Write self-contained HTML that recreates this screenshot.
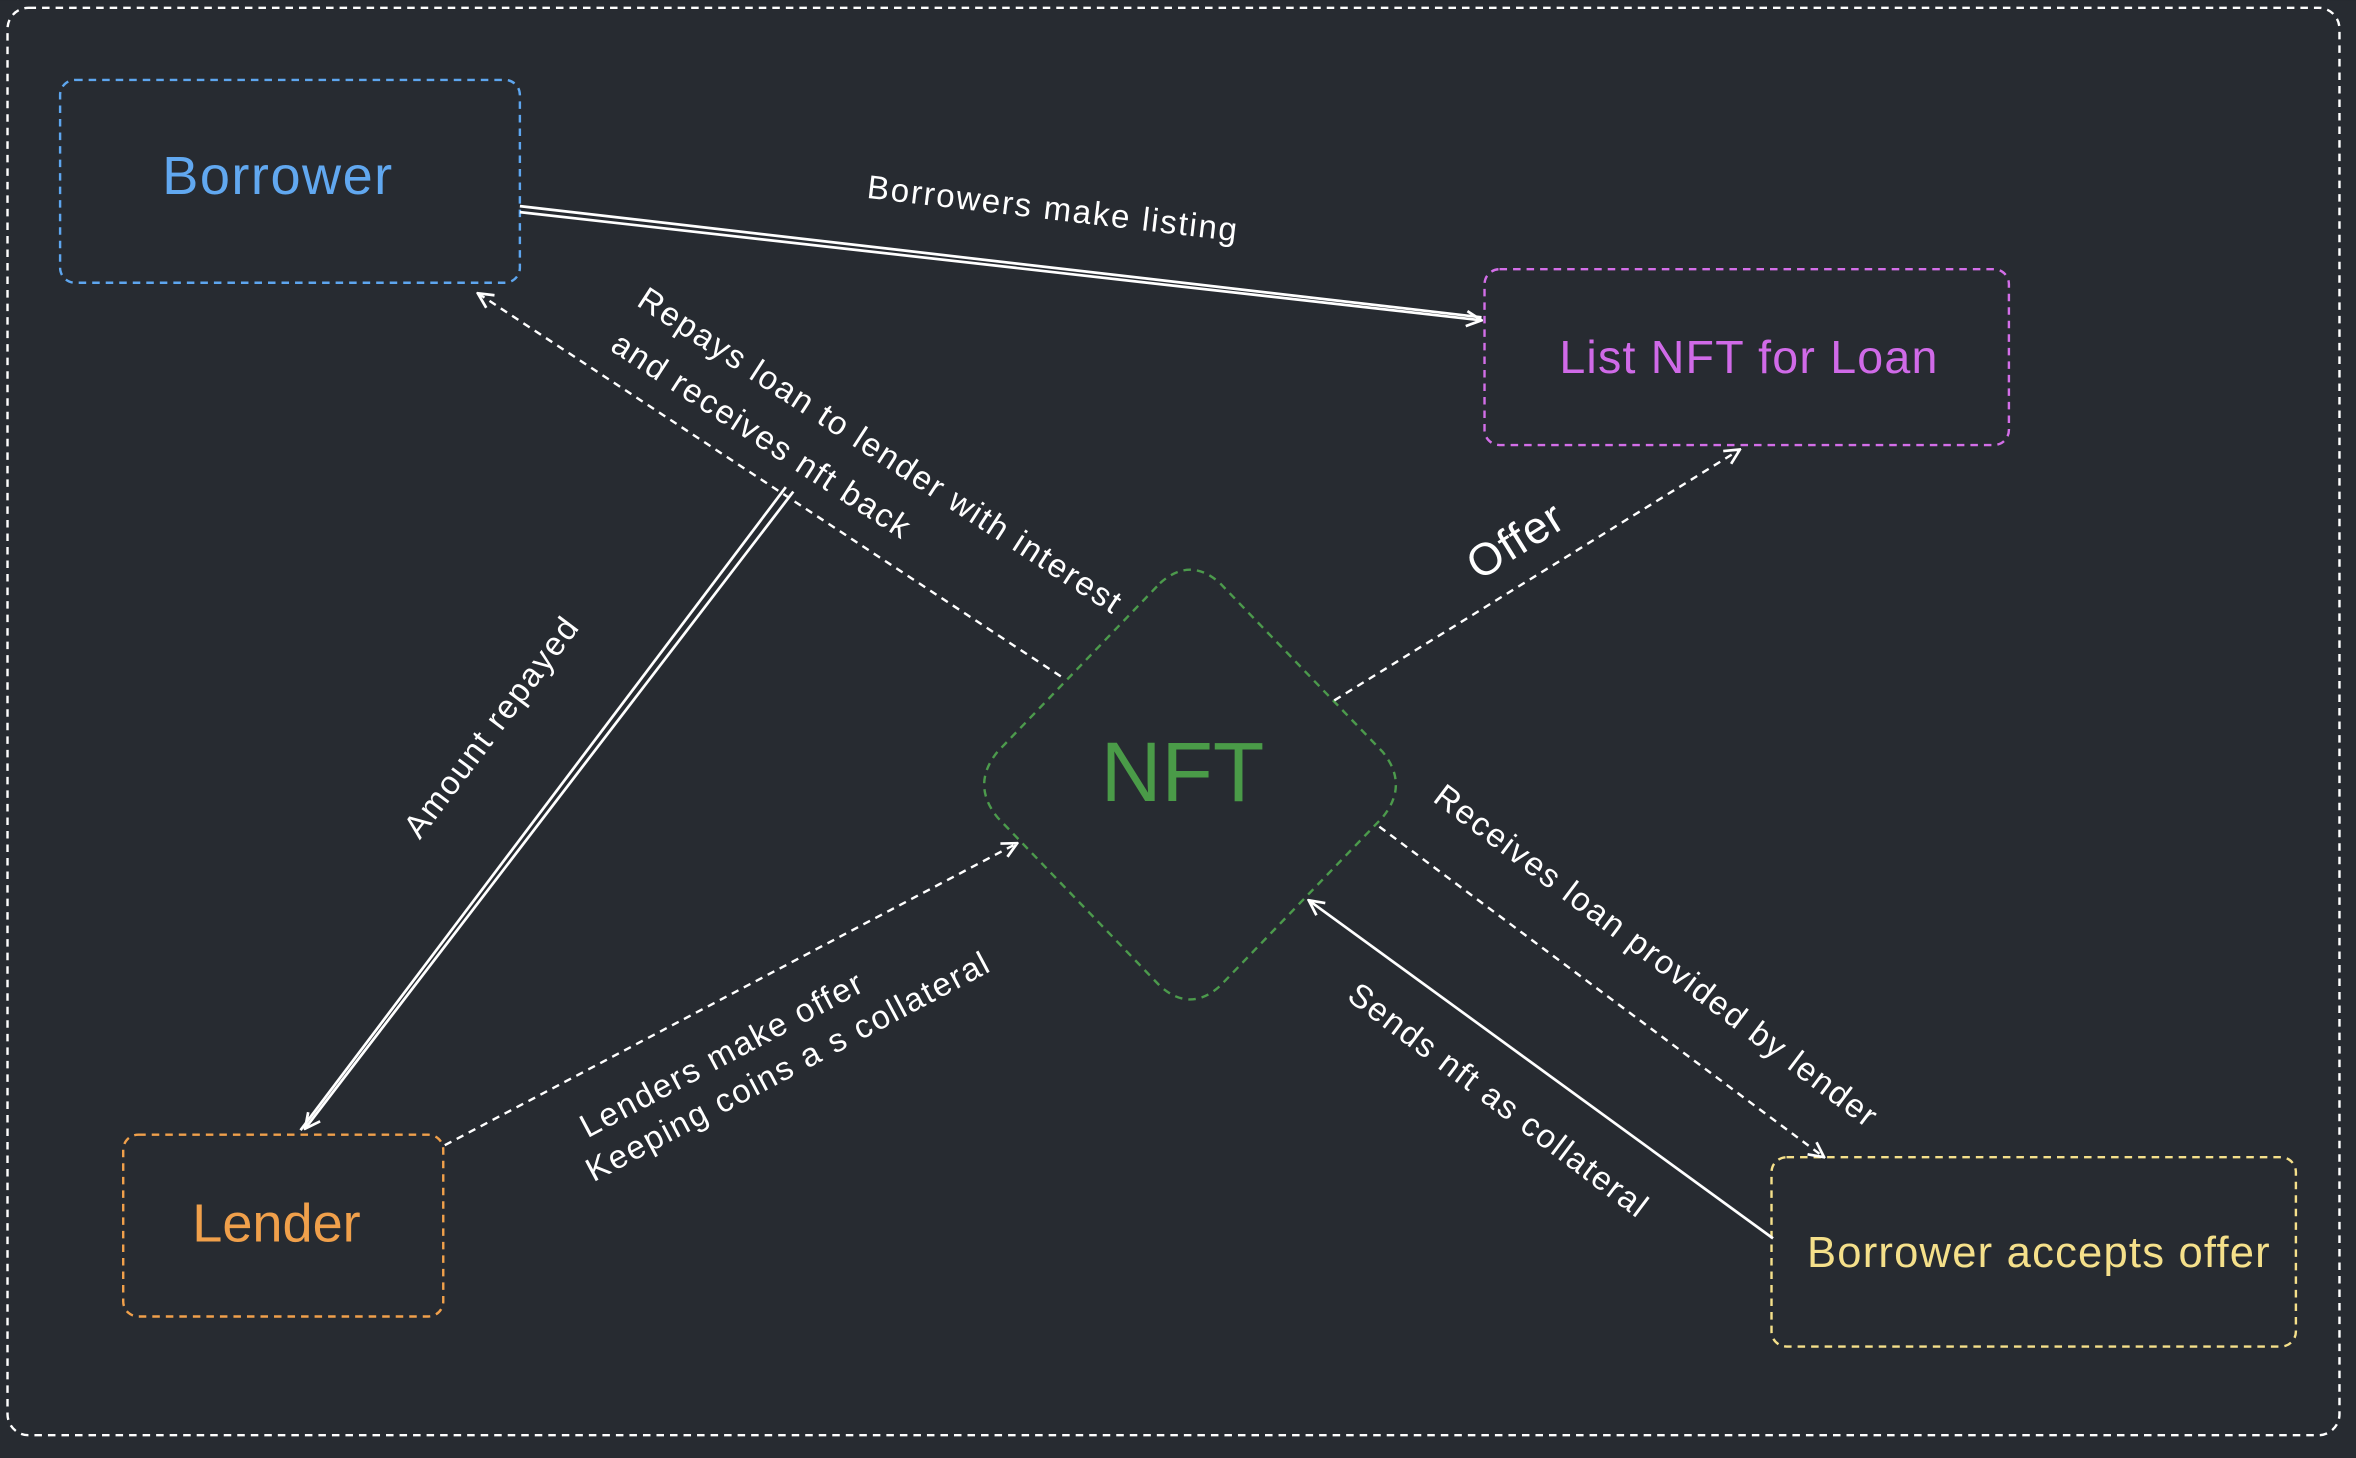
<!DOCTYPE html>
<html><head><meta charset="utf-8"><style>
html,body{margin:0;padding:0;background:#272b31;}
svg{display:block}
text{font-family:"Liberation Sans","DejaVu Sans",sans-serif;}
.l{font-size:22px;letter-spacing:1.2px;fill:#fff}
</style></head><body>
<svg width="2356" height="1458" viewBox="0 0 1568 970" xmlns="http://www.w3.org/2000/svg">
<defs>
<marker id="a" viewBox="0 0 12 12" refX="11" refY="6" markerWidth="12" markerHeight="12" markerUnits="userSpaceOnUse" orient="auto">
<path d="M1,1 L11,6 L1,11" fill="none" stroke="#fff" stroke-width="1.8"/>
</marker>
</defs>
<rect x="0" y="0" width="1568" height="970" fill="#272b31"/>
<rect x="5" y="5" width="1552" height="950" rx="14" fill="none" stroke="#fff" stroke-width="1.6" stroke-dasharray="5 4"/>

<rect x="40" y="53" width="306" height="135" rx="10" fill="none" stroke="#5ea6ef" stroke-width="1.6" stroke-dasharray="5 4"/>
<text x="185" y="129" font-size="36" letter-spacing="1" fill="#61a8f0" text-anchor="middle">Borrower</text>

<rect x="988" y="179" width="349" height="117" rx="10" fill="none" stroke="#d36ee8" stroke-width="1.6" stroke-dasharray="5 4"/>
<text x="1164" y="248" font-size="31" letter-spacing="0.8" fill="#d06ae8" text-anchor="middle">List NFT for Loan</text>

<rect x="82" y="755" width="213" height="121" rx="10" fill="none" stroke="#f0a04b" stroke-width="1.6" stroke-dasharray="5 4"/>
<text x="184" y="826" font-size="36" fill="#f0a04b" text-anchor="middle">Lender</text>

<rect x="1179" y="770" width="349" height="126" rx="10" fill="none" stroke="#f5e08a" stroke-width="1.6" stroke-dasharray="5 4"/>
<text x="1357" y="843" font-size="29" letter-spacing="0.8" fill="#f5e08a" text-anchor="middle">Borrower accepts offer</text>

<path d="M772,388 Q792,370 812,388 L920,500 Q938,522 920,544 L812,656 Q792,674 772,656 L664,544 Q646,522 664,500 Z" fill="none" stroke="#4c9a4c" stroke-width="1.6" stroke-dasharray="5 4"/>
<text x="787" y="533" font-size="56" fill="#4a9b48" text-anchor="middle">NFT</text>

<line x1="346" y1="137" x2="986" y2="211" stroke="#fff" stroke-width="1.8"/>
<line x1="346" y1="141" x2="986" y2="213" stroke="#fff" stroke-width="1.8" marker-end="url(#a)"/>
<text x="700" y="146" class="l" text-anchor="middle" transform="rotate(6.7 700 146)">Borrowers make listing</text>

<line x1="706" y1="450" x2="318" y2="195" stroke="#fff" stroke-width="1.6" stroke-dasharray="5 4" marker-end="url(#a)"/>
<text x="582" y="306" class="l" text-anchor="middle" transform="rotate(33 582 306)">Repays loan to lender with interest</text>
<text x="503" y="296" class="l" text-anchor="middle" transform="rotate(33 503 296)">and receives nft back</text>

<line x1="523" y1="324" x2="200" y2="752" stroke="#fff" stroke-width="1.8"/>
<line x1="528" y1="327" x2="203" y2="751" stroke="#fff" stroke-width="1.8" marker-end="url(#a)"/>
<text x="333" y="488" class="l" text-anchor="middle" transform="rotate(-53 333 488)">Amount repayed</text>

<line x1="296" y1="762" x2="677" y2="561" stroke="#fff" stroke-width="1.6" stroke-dasharray="5 4" marker-end="url(#a)"/>
<text x="484" y="708" class="l" text-anchor="middle" transform="rotate(-28 484 708)">Lenders make offer</text>
<text x="528" y="716" class="l" text-anchor="middle" transform="rotate(-28 528 716)">Keeping coins a s collateral</text>

<line x1="888" y1="466" x2="1158" y2="299" stroke="#fff" stroke-width="1.6" stroke-dasharray="5 4" marker-end="url(#a)"/>
<text x="1014" y="368" font-size="30" letter-spacing="0.8" fill="#fff" text-anchor="middle" transform="rotate(-32 1014 368)">Offer</text>

<line x1="918" y1="550" x2="1214" y2="770" stroke="#fff" stroke-width="1.6" stroke-dasharray="5 4" marker-end="url(#a)"/>
<text x="1098" y="642" class="l" text-anchor="middle" transform="rotate(37 1098 642)">Receives loan provided by lender</text>

<line x1="1180" y1="824" x2="871" y2="599" stroke="#fff" stroke-width="1.8" marker-end="url(#a)"/>
<text x="993" y="738" class="l" text-anchor="middle" transform="rotate(37 993 738)">Sends nft as collateral</text>
</svg>
</body></html>
